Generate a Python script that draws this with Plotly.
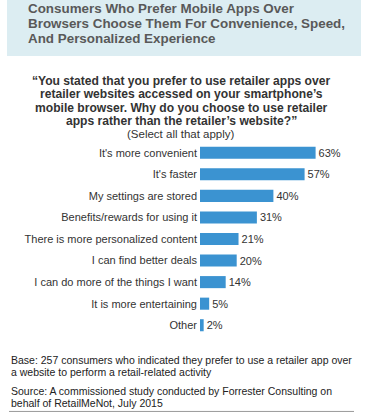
import plotly.graph_objects as go

categories = [
    "It's more convenient",
    "It's faster",
    "My settings are stored",
    "Benefits/rewards for using it",
    "There is more personalized content",
    "I can find better deals",
    "I can do more of the things I want",
    "It is more entertaining",
    "Other",
]
values = [63, 57, 40, 31, 21, 20, 14, 5, 2]

title_lines = [
    "Consumers Who Prefer Mobile Apps Over",
    "Browsers Choose Them For Convenience, Speed,",
    "And Personalized Experience",
]
question_lines = [
    "\u201cYou stated that you prefer to use retailer apps over",
    "retailer websites accessed on your smartphone\u2019s",
    "mobile browser. Why do you choose to use retailer",
    "apps rather than the retailer\u2019s website?\u201d",
]
subnote = "(Select all that apply)"
footer_lines = [
    "Base: 257 consumers who indicated they prefer to use a retailer app over",
    "a website to perform a retail-related activity",
    "Source: A commissioned study conducted by Forrester Consulting on",
    "behalf of RetailMeNot, July 2015",
]

FONT = "Liberation Sans, Arial, Helvetica, sans-serif"
W_PX, H_PX = 371, 414
L, R = 200, 11
T = 142.25
B = 414 - 335.75
PW = W_PX - L - R
PH = H_PX - T - B
PX_PER_UNIT = 1.835


def px_x(px):
    return (px - L) / PW


def px_y(py):
    return (H_PX - B - py) / PH


fig = go.Figure()
fig.add_trace(go.Bar(
    y=categories,
    x=values,
    orientation="h",
    marker=dict(color="#3b93d1", line=dict(width=0)),
    width=0.56,
    text=[f"{v}%" for v in values],
    textposition="outside",
    textfont=dict(family=FONT, size=11, color="#333333"),
    cliponaxis=False,
    hoverinfo="skip",
))

annotations = []
for line, cy in zip(title_lines, [9.5, 24.5, 39.5]):
    annotations.append(dict(
        text=f"<b>{line}</b>", x=px_x(26), y=px_y(cy), xref="paper", yref="paper",
        xanchor="left", yanchor="middle", showarrow=False,
        font=dict(family=FONT, size=13.4, color="#595959"),
    ))
for line, cy in zip(question_lines, [81, 94.5, 108, 121.5]):
    annotations.append(dict(
        text=f"<b>{line}</b>", x=px_x(181), y=px_y(cy), xref="paper", yref="paper",
        xanchor="center", yanchor="middle", showarrow=False,
        font=dict(family=FONT, size=12.1, color="#333333"),
    ))
annotations.append(dict(
    text=subnote, x=px_x(181), y=px_y(134.5), xref="paper", yref="paper",
    xanchor="center", yanchor="middle", showarrow=False,
    font=dict(family=FONT, size=11.5, color="#333333"),
))
for line, cy in zip(footer_lines, [360, 372, 391, 403]):
    annotations.append(dict(
        text=line, x=px_x(9), y=px_y(cy), xref="paper", yref="paper",
        xanchor="left", yanchor="middle", showarrow=False,
        font=dict(family=FONT, size=10.5, color="#222222"),
    ))

shapes = [
    dict(type="rect", xref="paper", yref="paper",
         x0=px_x(7), x1=px_x(361), y0=px_y(0), y1=px_y(56.5),
         fillcolor="#dcedf2", line=dict(width=0), layer="below"),
    dict(type="line", xref="paper", yref="paper",
         x0=px_x(9), x1=px_x(354), y0=px_y(411), y1=px_y(411),
         line=dict(color="#9a9a9a", width=1)),
]

fig.update_layout(
    width=W_PX, height=H_PX,
    margin=dict(l=L, r=R, t=T, b=B, pad=0),
    paper_bgcolor="white", plot_bgcolor="white",
    showlegend=False,
    bargap=0.44,
    xaxis=dict(range=[0, PW / PX_PER_UNIT], visible=False, fixedrange=True),
    yaxis=dict(
        autorange="reversed", showgrid=False, zeroline=False, showline=False,
        ticks="", tickfont=dict(family=FONT, size=11, color="#333333"),
        ticklabelstandoff=2, fixedrange=True,
    ),
    annotations=annotations,
    shapes=shapes,
)

fig.write_html(
    "out.html",
    config={"displayModeBar": False},
    post_script="document.body.style.margin='0';document.body.style.padding='0';",
)
